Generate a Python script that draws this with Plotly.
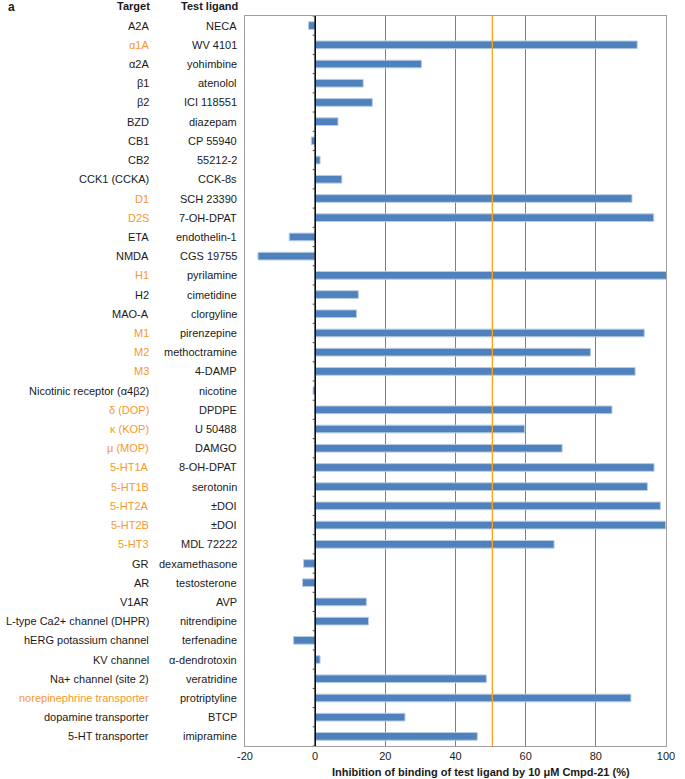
import plotly.graph_objects as go

targets = ["A2A", "α1A", "α2A", "β1", "β2", "BZD", "CB1", "CB2", "CCK1 (CCKA)", "D1", "D2S",
           "ETA", "NMDA", "H1", "H2", "MAO-A", "M1", "M2", "M3", "Nicotinic receptor (α4β2)",
           "δ (DOP)", "κ (KOP)", "μ (MOP)", "5-HT1A", "5-HT1B", "5-HT2A", "5-HT2B", "5-HT3",
           "GR", "AR", "V1AR", "L-type Ca2+ channel (DHPR)", "hERG potassium channel", "KV channel",
           "Na+ channel (site 2)", "norepinephrine transporter", "dopamine transporter", "5-HT transporter"]
ligands = ["NECA", "WV 4101", "yohimbine", "atenolol", "ICI 118551", "diazepam", "CP 55940", "55212-2",
           "CCK-8s", "SCH 23390", "7-OH-DPAT", "endothelin-1", "CGS 19755", "pyrilamine", "cimetidine",
           "clorgyline", "pirenzepine", "methoctramine", "4-DAMP", "nicotine", "DPDPE", "U 50488",
           "DAMGO", "8-OH-DPAT", "serotonin", "±DOI", "±DOI", "MDL 72222", "dexamethasone",
           "testosterone", "AVP", "nitrendipine", "terfenadine", "α-dendrotoxin", "veratridine",
           "protriptyline", "BTCP", "imipramine"]
inhibition = [-1.9, 91.8, 30.3, 13.7, 16.3, 6.5, -1.1, 1.4, 7.6, 90.3, 96.5,
              -7.4, -16.3, 100.4, 12.3, 11.8, 93.8, 78.5, 91.2, -0.6,
              84.6, 59.7, 70.4, 96.6, 94.7, 98.4, 99.9, 68.1,
              -3.3, -3.6, 14.6, 15.2, -6.2, 1.4, 48.8, 90.0, 25.6, 46.2]
highlighted = ["α1A", "D1", "D2S", "H1", "M1", "M2", "M3", "δ (DOP)", "κ (KOP)", "μ (MOP)",
               "5-HT1A", "5-HT1B", "5-HT2A", "5-HT2B", "5-HT3", "norepinephrine transporter"]
x_ticks = [-20, 0, 20, 40, 60, 80, 100]
threshold = 50.5

BLUE = "#4F81BD"
ORANGE = "#F7982B"
FONT = "Liberation Sans, Arial, sans-serif"

n = len(targets)
ypos = list(range(n))

fig = go.Figure()
fig.add_trace(go.Bar(
    x=inhibition, y=ypos, orientation="h",
    marker=dict(color=BLUE, line=dict(color="#B8CCE4", width=1)),
    hoverinfo="x",
))

W, H = 685, 779
ML, MR, MT, MB = 245, 10, 16, 33
pw = W - ML - MR
ph = H - MT - MB

def page_x(px):
    return (px - ML) / pw

def page_y(py):
    return 1 - (py - MT) / ph

annotations = []
for i, (t, l) in enumerate(zip(targets, ligands)):
    annotations.append(dict(x=page_x(149), xref="paper", y=i, yref="y", text=t,
                            showarrow=False, xanchor="right", yanchor="middle",
                            font=dict(family=FONT, size=11,
                                      color=ORANGE if t in highlighted else "#1a1a1a")))
    annotations.append(dict(x=page_x(239), xref="paper", y=i, yref="y", text=l,
                            showarrow=False, xanchor="right", yanchor="middle",
                            font=dict(family=FONT, size=11, color="#1a1a1a")))

annotations += [
    dict(x=page_x(150), xref="paper", y=page_y(6), yref="paper", text="<b>Target</b>",
         showarrow=False, xanchor="right", yanchor="middle", font=dict(family=FONT, size=11, color="#1a1a1a")),
    dict(x=page_x(240), xref="paper", y=page_y(6), yref="paper", text="<b>Test ligand</b>",
         showarrow=False, xanchor="right", yanchor="middle", font=dict(family=FONT, size=11, color="#1a1a1a")),
    dict(x=page_x(1), xref="paper", y=page_y(7), yref="paper", text="<b>a</b>",
         showarrow=False, xanchor="left", yanchor="middle", font=dict(family=FONT, size=12, color="#1a1a1a")),
    dict(x=page_x(486), xref="paper", y=page_y(772), yref="paper",
         text="<b>Inhibition of binding of test ligand by 10 μM Cmpd-21 (%)</b>",
         showarrow=False, xanchor="center", yanchor="middle", font=dict(family=FONT, size=11, color="#1a1a1a")),
]

shapes = []
shapes.append(dict(type="line", xref="x", yref="paper", x0=threshold, x1=threshold, y0=0, y1=1,
                   line=dict(color="#FFA31A", width=1.3), layer="above"))
shapes.append(dict(type="line", xref="x", yref="paper", x0=0, x1=0, y0=0, y1=1,
                   line=dict(color="#000000", width=1.5), layer="above"))
for i in range(n + 1):
    shapes.append(dict(type="line", xref="x", yref="y", x0=-0.7, x1=0, y0=i - 0.5, y1=i - 0.5,
                       line=dict(color="#404040", width=1), layer="above"))

fig.update_layout(
    width=W, height=H,
    margin=dict(l=ML, r=MR, t=MT, b=MB),
    paper_bgcolor="white", plot_bgcolor="white",
    showlegend=False,
    bargap=0.6,
    annotations=annotations,
    shapes=shapes,
    font=dict(family=FONT, size=11, color="#1a1a1a"),
)
fig.update_xaxes(
    range=[-20, 100], tickvals=x_ticks, ticktext=[str(v) for v in x_ticks],
    showgrid=True, gridcolor="#7F7F7F", gridwidth=1,
    zeroline=False, showline=True, linecolor="#A0A0A0", linewidth=1, mirror=True,
    ticks="", tickfont=dict(family=FONT, size=11, color="#1a1a1a"),
)
fig.update_yaxes(
    range=[n - 0.5, -0.5], showticklabels=False, showgrid=False, zeroline=False,
    showline=True, linecolor="#A0A0A0", linewidth=1, mirror=True, ticks="",
)

fig.write_html("out.html", config={"displayModeBar": False},
               post_script="document.body.style.margin='0px';")
